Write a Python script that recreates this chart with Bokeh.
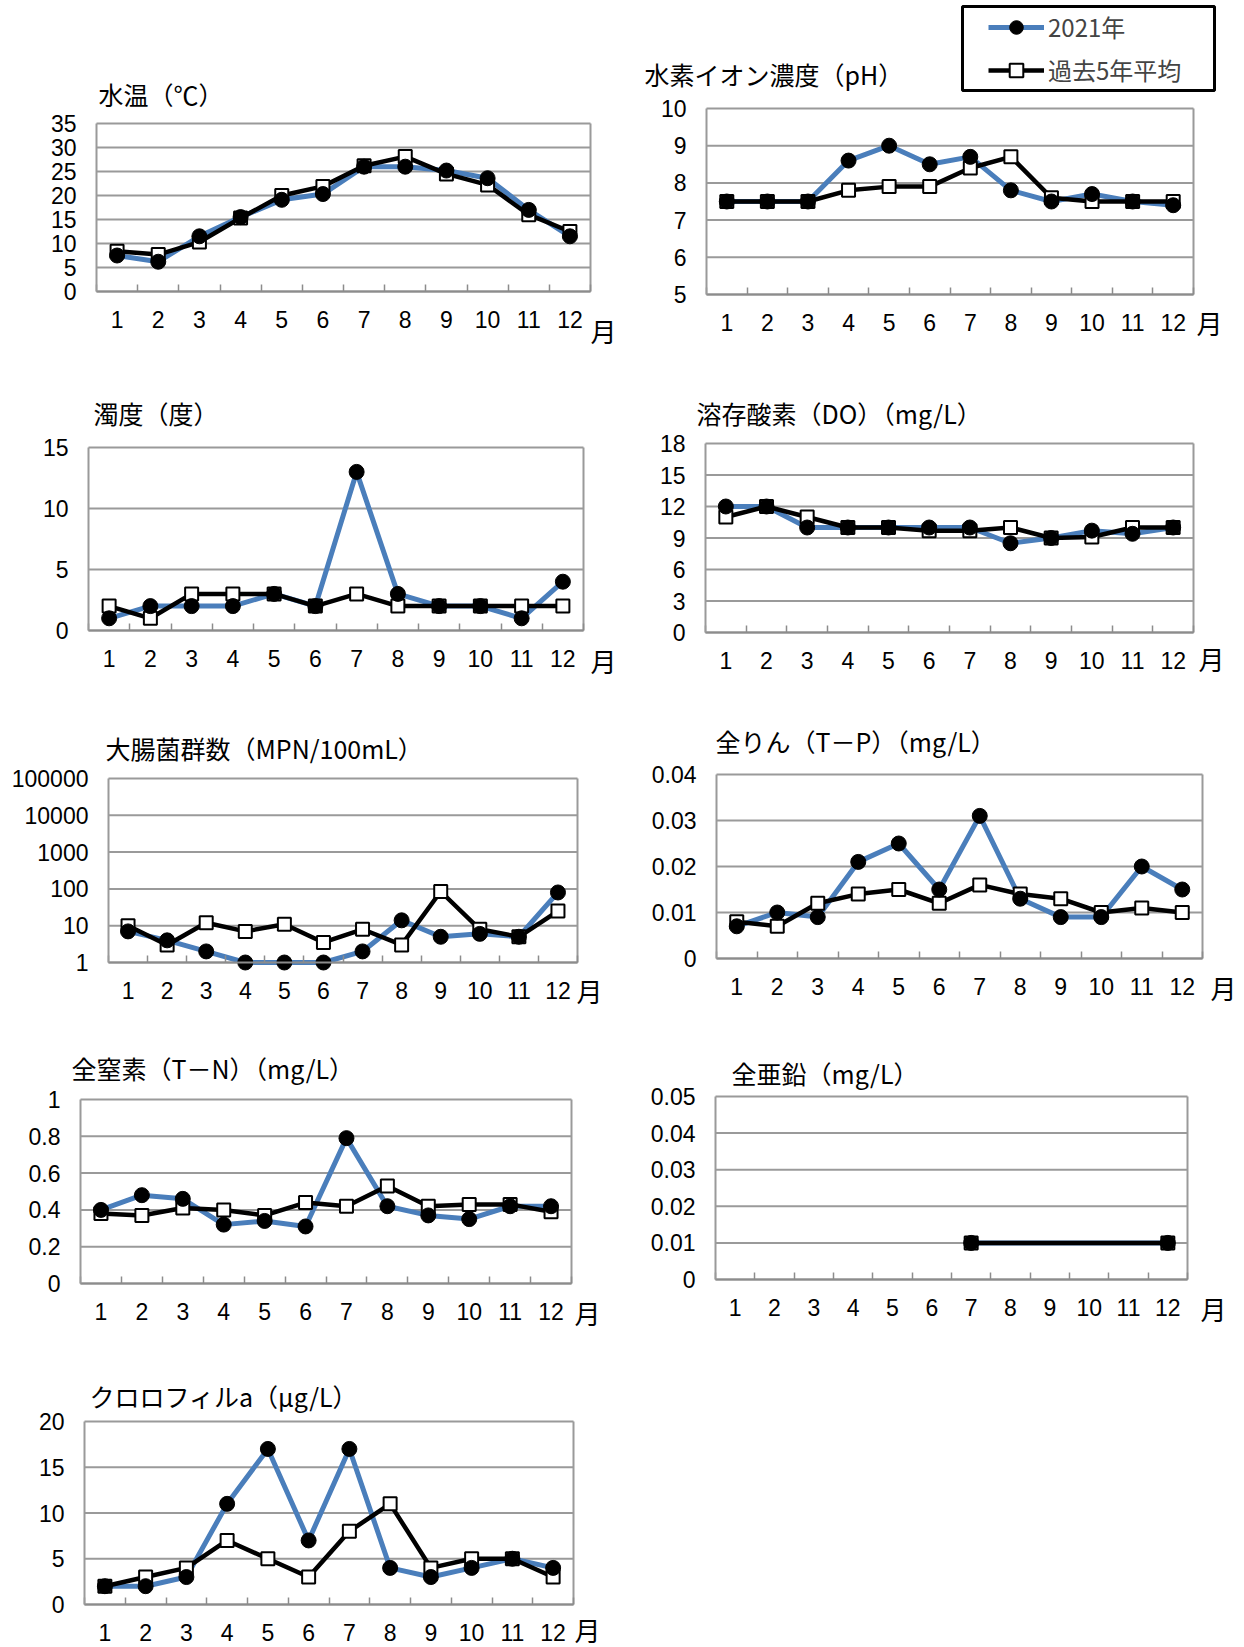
import math
from bokeh.plotting import figure
from bokeh.models import Range1d, FixedTicker, Label, Legend, LegendItem, BoxAnnotation
from bokeh.layouts import column, row
from bokeh.embed import file_html
from bokeh.resources import INLINE

# ---------------- data ----------------
months = list(range(1, 13))
month_labels = [str(m) for m in months]

temp_2021 = [7.5, 6.2, 11.5, 15.5, 19.1, 20.3, 26.0, 26.0, 25.2, 23.6, 17.0, 11.5]
temp_avg = [8.4, 7.7, 10.3, 15.3, 20.0, 21.9, 26.2, 28.1, 24.5, 22.2, 16.0, 12.5]

ph_2021 = [7.5, 7.5, 7.5, 8.6, 9.0, 8.5, 8.7, 7.8, 7.5, 7.7, 7.5, 7.4]
ph_avg = [7.5, 7.5, 7.5, 7.8, 7.9, 7.9, 8.4, 8.7, 7.6, 7.5, 7.5, 7.5]

turb_2021 = [1, 2, 2, 2, 3, 2, 13, 3, 2, 2, 1, 4]
turb_avg = [2, 1, 3, 3, 3, 2, 3, 2, 2, 2, 2, 2]

do_2021 = [12, 12, 10, 10, 10, 10, 10, 8.5, 9, 9.7, 9.4, 10]
do_avg = [11, 12, 11, 10, 10, 9.7, 9.7, 10, 9, 9.1, 10, 10]

coli_2021 = [7, 4, 2, 1, 1, 1, 2, 14, 5, 6, 5, 80]
coli_avg = [10, 3, 12, 7, 11, 3.5, 8, 3, 85, 8, 5, 25]

tp_2021 = [0.007, 0.010, 0.009, 0.021, 0.025, 0.015, 0.031, 0.013, 0.009, 0.009, 0.020, 0.015]
tp_avg = [0.008, 0.007, 0.012, 0.014, 0.015, 0.012, 0.016, 0.014, 0.013, 0.010, 0.011, 0.010]

tn_2021 = [0.40, 0.48, 0.46, 0.32, 0.34, 0.31, 0.79, 0.42, 0.37, 0.35, 0.42, 0.42]
tn_avg = [0.38, 0.37, 0.41, 0.40, 0.37, 0.44, 0.42, 0.53, 0.42, 0.43, 0.43, 0.39]

zn_2021 = [None, None, None, None, None, None, 0.01, None, None, None, None, 0.01]
zn_avg = [None, None, None, None, None, None, 0.01, None, None, None, None, 0.01]

chl_2021 = [2, 2, 3, 11, 17, 7, 17, 4, 3, 4, 5, 4]
chl_avg = [2, 3, 4, 7, 5, 3, 8, 11, 4, 5, 5, 3]

titles = ["水温（℃）", "水素イオン濃度（pH）", "濁度（度）", "溶存酸素（DO）（mg/L）",
          "大腸菌群数（MPN/100mL）", "全りん（T－P）（mg/L）", "全窒素（T－N）（mg/L）",
          "全亜鉛（mg/L）", "クロロフィルa（μg/L）"]

temp_ticks = [0, 5, 10, 15, 20, 25, 30, 35]
temp_tick_labels = ["0", "5", "10", "15", "20", "25", "30", "35"]
ph_ticks = [5, 6, 7, 8, 9, 10]
ph_tick_labels = ["5", "6", "7", "8", "9", "10"]
turb_ticks = [0, 5, 10, 15]
turb_tick_labels = ["0", "5", "10", "15"]
do_ticks = [0, 3, 6, 9, 12, 15, 18]
do_tick_labels = ["0", "3", "6", "9", "12", "15", "18"]
coli_ticks = [1, 10, 100, 1000, 10000, 100000]
coli_tick_labels = ["1", "10", "100", "1000", "10000", "100000"]
tp_ticks = [0, 0.01, 0.02, 0.03, 0.04]
tp_tick_labels = ["0", "0.01", "0.02", "0.03", "0.04"]
tn_ticks = [0, 0.2, 0.4, 0.6, 0.8, 1]
tn_tick_labels = ["0", "0.2", "0.4", "0.6", "0.8", "1"]
zn_ticks = [0, 0.01, 0.02, 0.03, 0.04, 0.05]
zn_tick_labels = ["0", "0.01", "0.02", "0.03", "0.04", "0.05"]
chl_ticks = [0, 5, 10, 15, 20]
chl_tick_labels = ["0", "5", "10", "15", "20"]

legend_labels = ["2021年", "過去5年平均"]
month_unit = "月"

# ---------------- style ----------------
BLUE = "#4a7ebb"
GRID = "#9a9a9a"
AXIS = "#8c8c8c"
NUMFONT = "Liberation Sans"
JPFONT = "Noto Sans CJK JP"


def make_chart(title, s1, s2, yticks, ylabels, log, origin, W, H, box, tpos, mpos):
    fx, fy = origin
    bx0, by0, bx1, by1 = box[0] - fx, box[1] - fy, box[2] - fx, box[3] - fy
    u = (bx1 - bx0) / 12.0
    x_start = 0.5 - bx0 / u
    x_end = 12.5 + (W - bx1) / u
    tf = math.log10 if log else (lambda t: t)
    lo, hi = tf(yticks[0]), tf(yticks[-1])
    v = (by1 - by0) / (hi - lo)
    y_start = lo - (H - by1) / v
    y_end = hi + by0 / v
    if log:
        y_start, y_end = 10 ** y_start, 10 ** y_end
    p = figure(width=W, height=H, title=None,
               x_range=Range1d(x_start, x_end), y_range=Range1d(y_start, y_end),
               y_axis_type="log" if log else "linear",
               output_backend="svg", toolbar_location=None,
               min_border_left=0, min_border_right=0,
               min_border_top=0, min_border_bottom=0,
               background_fill_color="white", border_fill_color="white",
               outline_line_color=None)
    p.xgrid.visible = False
    p.ygrid.visible = False

    # grid lines and box (within the plot area only)
    gx = [[0.5, 12.5] for t in yticks] + [[12.5, 12.5]]
    gy = [[t, t] for t in yticks] + [[yticks[0], yticks[-1]]]
    p.multi_line(gx, gy, line_color=GRID, line_width=2)

    # x axis
    xa = p.xaxis[0]
    xa.fixed_location = yticks[0]
    xa.bounds = (0.5, 12.5)
    xa.ticker = FixedTicker(ticks=months, minor_ticks=[m + 0.5 for m in range(0, 13)])
    xa.major_label_overrides = {m: lab for m, lab in zip(months, month_labels)}
    xa.major_tick_line_color = None
    xa.major_tick_in = 0
    xa.major_tick_out = 0
    xa.minor_tick_in = 7
    xa.minor_tick_out = 0
    xa.minor_tick_line_color = AXIS
    xa.minor_tick_line_width = 1.5
    xa.axis_line_color = AXIS
    xa.axis_line_width = 2
    xa.major_label_standoff = 19
    xa.major_label_text_font = NUMFONT
    xa.major_label_text_font_size = "23px"
    xa.major_label_text_color = "black"
    # y axis
    ya = p.yaxis[0]
    ya.fixed_location = 0.5
    ya.bounds = (yticks[0], yticks[-1])
    ya.ticker = FixedTicker(ticks=yticks, minor_ticks=[])
    ya.major_label_overrides = {t: lab for t, lab in zip(yticks, ylabels)}
    ya.major_tick_line_color = None
    ya.minor_tick_line_color = None
    ya.major_tick_in = 0
    ya.major_tick_out = 0
    ya.minor_tick_in = 0
    ya.minor_tick_out = 0
    ya.axis_line_color = GRID
    ya.axis_line_width = 2
    ya.major_label_standoff = 20
    ya.major_label_text_font = NUMFONT
    ya.major_label_text_font_size = "23px"
    ya.major_label_text_color = "black"

    x1 = [m for m, val in zip(months, s1) if val is not None]
    y1 = [val for val in s1 if val is not None]
    x2 = [m for m, val in zip(months, s2) if val is not None]
    y2 = [val for val in s2 if val is not None]
    l1 = p.line(x1, y1, line_color=BLUE, line_width=5)
    l2 = p.line(x2, y2, line_color="black", line_width=4.5)
    m2 = p.scatter(x2, y2, marker="square", size=13, fill_color="white",
                   line_color="black", line_width=2)
    m1 = p.scatter(x1, y1, marker="circle", size=15, fill_color="black",
                   line_color="black")

    p.add_layout(Label(x=tpos[0] - fx, y=H - (tpos[1] - fy), x_units="screen", y_units="screen",
                       text=title, text_font=JPFONT, text_font_size="25px",
                       text_align="left", text_baseline="middle", text_color="black"))
    p.add_layout(Label(x=mpos[0] - fx, y=H - (mpos[1] - fy), x_units="screen", y_units="screen",
                       text=month_unit, text_font=JPFONT, text_font_size="26px",
                       text_align="center", text_baseline="middle", text_color="black"))
    return p, (l1, m1, l2, m2)


# page layout (window pixels; the page has no margin)
COLS = [0, 622]
COL_W = 622
ROWS = [0, 360, 690, 1015, 1345]
ROW_H = [360, 330, 325, 330, 302]

# per chart: (col, row, plot box x0,y0,x1,y1, title left/middle, 月 centre)
L = [
    (0, 0, (96, 123, 590, 291), (98, 93), (603, 330)),
    (1, 0, (706, 108, 1193, 294), (644, 73), (1209, 322)),
    (0, 1, (88, 447, 583, 630), (93, 412), (603, 660)),
    (1, 1, (705, 443, 1193, 632), (696, 412), (1211, 658)),
    (0, 2, (108, 778, 577, 962), (105, 747), (589, 990)),
    (1, 2, (716, 774, 1202, 958), (715, 740), (1223, 987)),
    (0, 3, (80, 1099, 571, 1283), (71, 1067), (587, 1312)),
    (1, 3, (715, 1096, 1187, 1279), (731, 1072), (1213, 1308)),
    (0, 4, (84, 1421, 573, 1604), (89, 1395), (587, 1629)),
]

specs = [
    (temp_2021, temp_avg, temp_ticks, temp_tick_labels, False),
    (ph_2021, ph_avg, ph_ticks, ph_tick_labels, False),
    (turb_2021, turb_avg, turb_ticks, turb_tick_labels, False),
    (do_2021, do_avg, do_ticks, do_tick_labels, False),
    (coli_2021, coli_avg, coli_ticks, coli_tick_labels, True),
    (tp_2021, tp_avg, tp_ticks, tp_tick_labels, False),
    (tn_2021, tn_avg, tn_ticks, tn_tick_labels, False),
    (zn_2021, zn_avg, zn_ticks, zn_tick_labels, False),
    (chl_2021, chl_avg, chl_ticks, chl_tick_labels, False),
]

figs = []
rends = []
for t, sp, lay in zip(titles, specs, L):
    c, r, box, tpos, mpos = lay
    f, rr = make_chart(t, sp[0], sp[1], sp[2], sp[3], sp[4],
                       (COLS[c], ROWS[r]), COL_W, ROW_H[r], box, tpos, mpos)
    figs.append(f)
    rends.append(rr)

# legend in the pH chart: frame 962..1214 x 6..90, glyphs 988..1044, rows at y 28 / 70
fig2 = figs[1]
H2 = ROW_H[0]
fig2.add_layout(BoxAnnotation(left=962 - COLS[1], right=1214 - COLS[1],
                              top=H2 - 6, bottom=H2 - 90,
                              left_units="screen", right_units="screen",
                              top_units="screen", bottom_units="screen",
                              fill_color="white", fill_alpha=1.0,
                              line_color="black", line_alpha=1.0, line_width=3))
l1, m1, l2, m2 = rends[1]
legend = Legend(items=[LegendItem(label=legend_labels[0], renderers=[l1, m1]),
                       LegendItem(label=legend_labels[1], renderers=[l2, m2])],
                location=(988 - COLS[1], H2 - 87), orientation="vertical",
                border_line_color=None, background_fill_alpha=0.0,
                label_text_font=JPFONT, label_text_font_size="24px",
                label_text_baseline="middle",
                glyph_width=56, glyph_height=34, label_height=34,
                label_standoff=4, spacing=8, padding=0, margin=0)
fig2.add_layout(legend, "center")

layout = column(
    row(figs[0], figs[1], spacing=0),
    row(figs[2], figs[3], spacing=0),
    row(figs[4], figs[5], spacing=0),
    row(figs[6], figs[7], spacing=0),
    figs[8],
    spacing=0,
)

open("out.html", "w").write(file_html(layout, INLINE))
